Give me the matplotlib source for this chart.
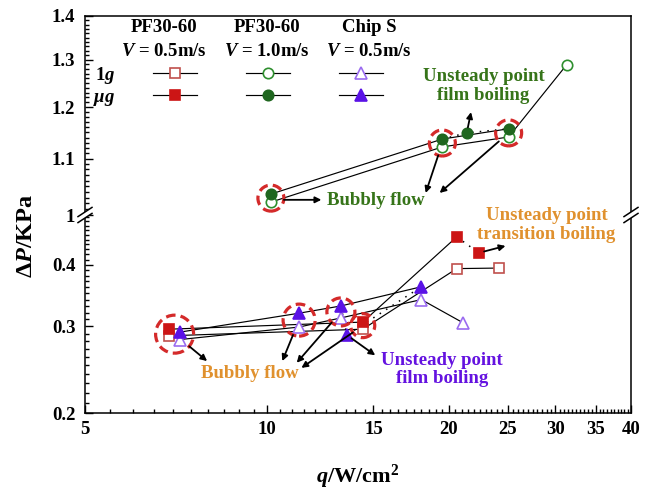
import numpy as np
import matplotlib
matplotlib.use('Agg')
import matplotlib.pyplot as plt
from matplotlib.patches import Circle, Polygon
from matplotlib.transforms import ScaledTranslation
from matplotlib.lines import Line2D
from matplotlib.ticker import FixedLocator, FixedFormatter, NullFormatter

plt.rcParams['font.family'] = ['Liberation Serif', 'DejaVu Serif']
plt.rcParams['font.weight'] = 'bold'
plt.rcParams['mathtext.fontset'] = 'custom'
plt.rcParams['mathtext.rm'] = 'Liberation Serif:bold'
plt.rcParams['mathtext.it'] = 'Liberation Serif:italic:bold'
plt.rcParams['mathtext.bf'] = 'Liberation Serif:bold'

# ---------------- data ----------------
# PF30-60, V = 0.5 m/s
q_pf05_1g = [6.89, 14.4, 20.6, 24.2]
dp_pf05_1g = [0.287, 0.296, 0.393, 0.394]
q_pf05_mug = [6.89, 14.4, 20.6, 22.4]
dp_pf05_mug = [0.296, 0.306, 0.456, 0.423]
unsteady_pf05_mug = 3
# PF30-60, V = 1.0 m/s
q_pf10_1g = [10.15, 19.5, 25.1, 31.3]
dp_pf10_1g = [1.022, 1.122, 1.141, 1.289]
q_pf10_mug = [10.15, 19.5, 21.4, 25.1]
dp_pf10_mug = [1.036, 1.137, 1.149, 1.157]
unsteady_pf10_mug = 2
# Chip S, V = 0.5 m/s
q_chip_1g = [7.18, 11.3, 13.25, 18.0, 21.1]
dp_chip_1g = [0.282, 0.299, 0.312, 0.340, 0.305]
q_chip_mug = [7.18, 11.3, 13.25, 13.56, 18.0]
dp_chip_mug = [0.292, 0.319, 0.330, 0.288, 0.361]
unsteady_chip_mug = 3

x_ticks = [5, 10, 15, 20, 25, 30, 35, 40]
y_ticks_top = [1.0, 1.1, 1.2, 1.3, 1.4]
y_ticks_low = [0.2, 0.3, 0.4]

# ---------------- styles ----------------
RED_O = '#c0504d'
RED_F = '#cc1515'
GRN_O = '#2f8f2f'
GRN_F = '#1f661f'
PUR_O = '#9b6cf0'
PUR_F = '#5a12e6'
TXT_GRN = '#367419'
TXT_ORG = '#e0912e'
TXT_PUR = '#6412e0'
RING = '#d42a2a'
FS = 13.5

fig = plt.figure(figsize=(6.51, 4.90), dpi=100)
W, H = 651, 490
L, R = 85, 631
Y_TOP, Y_BRK, Y_BOT = 16, 215, 413
ax_top = fig.add_axes([L / W, 1 - Y_BRK / H, (R - L) / W, (Y_BRK - Y_TOP) / H])
ax_low = fig.add_axes([L / W, 1 - Y_BOT / H, (R - L) / W, (Y_BOT - Y_BRK) / H])
for ax in (ax_top, ax_low):
    ax.set_xscale('log')
    ax.set_yscale('log')
    ax.set_xlim(5, 40)
    ax.patch.set_visible(False)
    for s in ax.spines.values():
        s.set_linewidth(1.1)
ax_top.set_ylim(1.0, 1.4)
ax_low.set_ylim(0.2, 0.505)
ax_top.spines['bottom'].set_visible(False)
ax_low.spines['top'].set_visible(False)

# ticks
ax_low.xaxis.set_major_locator(FixedLocator(x_ticks))
ax_low.xaxis.set_major_formatter(FixedFormatter([str(t) for t in x_ticks]))
ax_low.xaxis.set_minor_locator(FixedLocator(np.arange(5.5, 40, 0.5)))
ax_low.xaxis.set_minor_formatter(NullFormatter())
ax_top.xaxis.set_major_locator(FixedLocator([]))
ax_top.xaxis.set_minor_locator(FixedLocator([]))

ax_top.yaxis.set_major_locator(FixedLocator(y_ticks_top))
ax_top.yaxis.set_major_formatter(FixedFormatter(['1', '1.1', '1.2', '1.3', '1.4']))
ax_top.yaxis.set_minor_locator(FixedLocator(np.arange(1.01, 1.4, 0.01)))
ax_top.yaxis.set_minor_formatter(NullFormatter())
ax_low.yaxis.set_major_locator(FixedLocator(y_ticks_low))
ax_low.yaxis.set_major_formatter(FixedFormatter(['0.2', '0.3', '0.4']))
ax_low.yaxis.set_minor_locator(FixedLocator(np.arange(0.21, 0.505, 0.01)))
ax_low.yaxis.set_minor_formatter(NullFormatter())

for ax in (ax_top, ax_low):
    ax.tick_params(which='both', direction='in', top=False, right=False, width=1.0,
                   labelsize=FS)
    ax.tick_params(which='major', length=5.5, pad=7)
    ax.tick_params(which='minor', length=2.8)
ax_top.tick_params(axis='x', which='both', bottom=False, labelbottom=False)
ax_low.tick_params(axis='x', which='major', pad=6)

# ---------------- series ----------------
def draw_series(ax, q, dp, marker, ms, mfc, mec, unsteady=None):
    q = np.asarray(q); dp = np.asarray(dp)
    if unsteady is None:
        ax.plot(q, dp, '-', color='k', lw=0.85, zorder=2)
    else:
        steady = [i for i in range(len(q)) if i != unsteady]
        ax.plot(q[steady], dp[steady], '-', color='k', lw=0.85, zorder=2)
        nb = [i for i in (unsteady - 1, unsteady, unsteady + 1) if 0 <= i < len(q)]
        ax.plot(q[nb], dp[nb], ls=(0, (1, 4)), color='k', lw=1.1, zorder=2)
    ax.plot(q, dp, ls='none', marker=marker, ms=ms, mfc=mfc, mec=mec, mew=1.2, zorder=4)

draw_series(ax_low, q_pf05_1g, dp_pf05_1g, 's', 7, 'white', RED_O)
draw_series(ax_low, q_pf05_mug, dp_pf05_mug, 's', 7, RED_F, RED_F, unsteady_pf05_mug)
draw_series(ax_low, q_chip_1g, dp_chip_1g, '^', 8.5, 'white', PUR_O)
draw_series(ax_low, q_chip_mug, dp_chip_mug, '^', 8.5, PUR_F, PUR_F, unsteady_chip_mug)
draw_series(ax_top, q_pf10_1g, dp_pf10_1g, 'o', 7.5, 'white', GRN_O)
draw_series(ax_top, q_pf10_mug, dp_pf10_mug, 'o', 7.5, GRN_F, GRN_F, unsteady_pf10_mug)

# ---------------- dashed rings ----------------
def gm(vals):
    return float(np.exp(np.mean(np.log(vals))))

def ring(ax, qs, dps, r_px):
    qc, vc = gm(qs), gm(dps)
    tr = fig.dpi_scale_trans + ScaledTranslation(qc, vc, ax.transData)
    c = Circle((0, 0), r_px / 100, transform=tr, fill=False, ec=RING, lw=2.3,
               ls=(0, (3.0, 1.6)), clip_on=False, zorder=5)
    ax.add_artist(c)
    return qc, vc, r_px * 0.72

rings_top = [
    ring(ax_top, [q_pf10_1g[0], q_pf10_mug[0]], [dp_pf10_1g[0], dp_pf10_mug[0]], 13),
    ring(ax_top, [q_pf10_1g[1], q_pf10_mug[1]], [dp_pf10_1g[1], dp_pf10_mug[1]], 13),
    ring(ax_top, [q_pf10_1g[2], q_pf10_mug[3]], [dp_pf10_1g[2], dp_pf10_mug[3]], 13),
]
rings_low = [
    ring(ax_low, [q_pf05_1g[0], q_pf05_mug[0], q_chip_1g[0], q_chip_mug[0]],
         [dp_pf05_1g[0], dp_pf05_mug[0], dp_chip_1g[0], dp_chip_mug[0]], 19),
    ring(ax_low, [q_chip_1g[1], q_chip_mug[1]], [dp_chip_1g[1], dp_chip_mug[1]], 16),
    ring(ax_low, [q_chip_1g[2], q_chip_mug[2]], [dp_chip_1g[2], dp_chip_mug[2]], 14),
    ring(ax_low, [q_pf05_1g[1], q_pf05_mug[1]], [dp_pf05_1g[1], dp_pf05_mug[1]], 12),
]

def arrow(ax, tail, head, shrink):
    ax.annotate('', xy=head, xytext=tail, annotation_clip=False,
                arrowprops=dict(arrowstyle='-|>', color='k', lw=1.3, shrinkA=shrink,
                                shrinkB=0, mutation_scale=9), zorder=6)

# upper annotations
ax_top.text(12.57, 1.024, 'Bubbly flow', color=TXT_GRN, fontsize=FS, ha='left', va='center')
qc, vc, sh = rings_top[0]
arrow(ax_top, (qc, 1.026), (12.3, 1.026), sh)
qc, vc, sh = rings_top[1]
arrow(ax_top, (qc, vc), (18.3, 1.038), sh)
qc, vc, sh = rings_top[2]
arrow(ax_top, (qc, vc), (19.3, 1.038), sh)
ax_top.text(22.8, 1.244, 'Unsteady point\nfilm boiling', color=TXT_GRN, fontsize=FS,
            ha='center', va='center', linespacing=1.1)
arrow(ax_top, (q_pf10_mug[unsteady_pf10_mug], dp_pf10_mug[unsteady_pf10_mug]), (21.75, 1.19), 4)

# lower annotations
ax_low.text(9.37, 0.241, 'Bubbly flow', color=TXT_ORG, fontsize=FS, ha='center', va='center')
heads_low = [(7.96, 0.255), (10.6, 0.255), (11.2, 0.253), (11.4, 0.247)]
for (qc, vc, sh), hd in zip(rings_low, heads_low):
    arrow(ax_low, (qc, vc), hd, sh)
ax_low.text(19.5, 0.245, 'Unsteady point\nfilm boiling', color=TXT_PUR, fontsize=FS,
            ha='center', va='center', linespacing=1.1)
arrow(ax_low, (q_chip_mug[unsteady_chip_mug], dp_chip_mug[unsteady_chip_mug]), (15.1, 0.262), 4)
ax_low.text(29.0, 0.482, 'Unsteady point\ntransition boiling', color=TXT_ORG, fontsize=FS,
            ha='center', va='center', linespacing=1.1)
arrow(ax_low, (q_pf05_mug[unsteady_pf05_mug], dp_pf05_mug[unsteady_pf05_mug]), (24.8, 0.437), 4)

# ---------------- legend ----------------
handles = [
    Line2D([], [], color='k', lw=0.85, marker='s', ms=7, mfc='white', mec=RED_O, mew=1.2),
    Line2D([], [], color='k', lw=0.85, marker='s', ms=7, mfc=RED_F, mec=RED_F, mew=1.2),
    Line2D([], [], color='k', lw=0.85, marker='o', ms=7.5, mfc='white', mec=GRN_O, mew=1.2),
    Line2D([], [], color='k', lw=0.85, marker='o', ms=7.5, mfc=GRN_F, mec=GRN_F, mew=1.2),
    Line2D([], [], color='k', lw=0.85, marker='^', ms=8.5, mfc='white', mec=PUR_O, mew=1.2),
    Line2D([], [], color='k', lw=0.85, marker='^', ms=8.5, mfc=PUR_F, mec=PUR_F, mew=1.2),
]
leg = ax_top.legend(handles, [''] * 6, ncol=3, frameon=False, fontsize=FS,
                    handlelength=2.35, handletextpad=0, columnspacing=2.6,
                    labelspacing=0.3, borderpad=0, borderaxespad=0, numpoints=1,
                    loc='upper left', bbox_to_anchor=((153 - L) / (R - L), (Y_BRK - 66) / (Y_BRK - Y_TOP)))

def tfrac(px, py):
    return (px - L) / (R - L), (Y_BRK - py) / (Y_BRK - Y_TOP)

headers = [('PF30-60', r'$\mathit{V}$ = 0.5m/s', 164),
           ('PF30-60', r'$\mathit{V}$ = 1.0m/s', 267),
           ('Chip S', r'$\mathit{V}$ = 0.5m/s', 369)]
for h1, h2, px in headers:
    ax_top.text(*tfrac(px, 27), h1, transform=ax_top.transAxes, fontsize=FS, ha='center', va='center')
    ax_top.text(*tfrac(px, 52), h2, transform=ax_top.transAxes, fontsize=FS, ha='center', va='center')
ax_top.text(*tfrac(95, 76), r'1$\mathit{g}$', transform=ax_top.transAxes, fontsize=FS, ha='left', va='center')
ax_top.text(*tfrac(93, 99), r'$\mathit{μg}$', transform=ax_top.transAxes, fontsize=FS, ha='left', va='center')

# ---------------- axis break marks ----------------
for cx in (L, R):
    cy = H - Y_BRK
    def f(dx, dy):
        return ((cx + dx) / W, (cy + dy) / H)
    poly = Polygon([f(-6, -7), f(6, 1), f(6, 7), f(-6, -1)], closed=True, transform=fig.transFigure,
                   fc='white', ec='none', zorder=10)
    fig.add_artist(poly)
    for off in (-3, 3):
        fig.add_artist(Line2D([f(-7, -4.6 + off)[0], f(7, 4.6 + off)[0]],
                              [f(-7, -4.6 + off)[1], f(7, 4.6 + off)[1]],
                              transform=fig.transFigure, color='k', lw=1.1, zorder=11))

# ---------------- axis labels ----------------
fig.text(358 / W, 1 - 477 / H, r'$\mathit{q}$/W/cm$^{2}$', fontsize=16, ha='center', va='center')
fig.text(27 / W, 1 - 236 / H, r'Δ$\mathit{P}$/KPa', fontsize=17.5, ha='center', va='center', rotation=90)

fig.savefig('out.png', dpi=100, facecolor='white')
